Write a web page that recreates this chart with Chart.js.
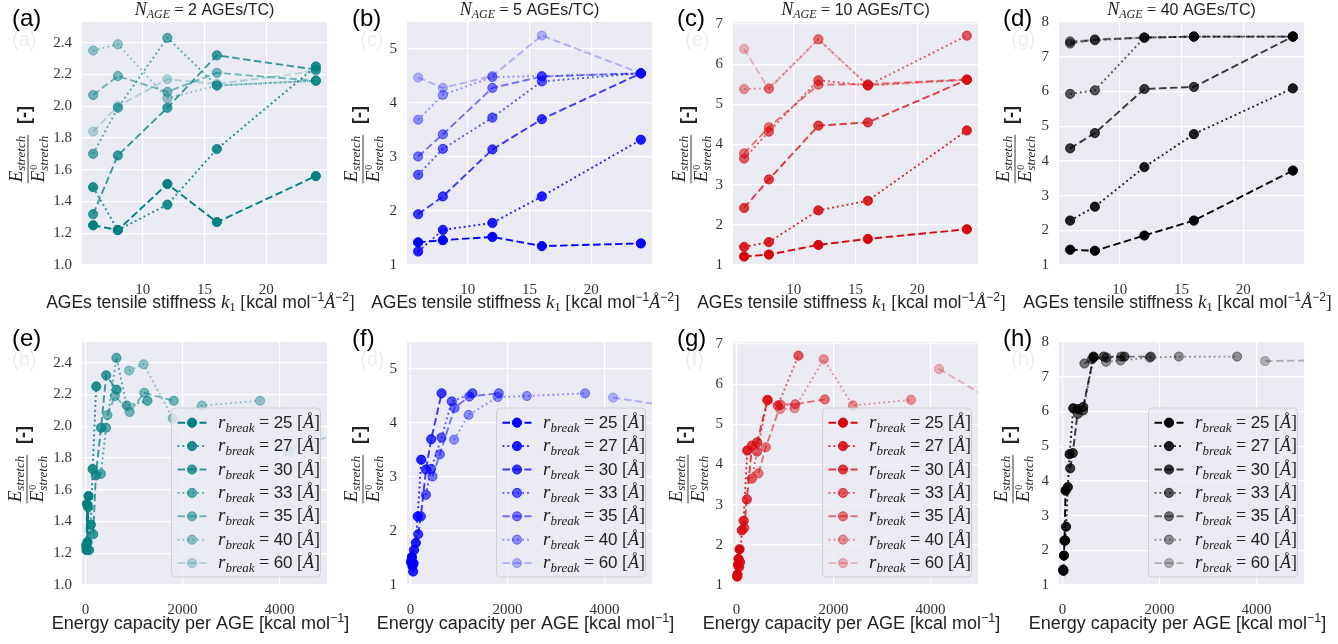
<!DOCTYPE html>
<html><head><meta charset="utf-8">
<script src="https://cdn.jsdelivr.net/npm/chart.js@4.4.1/dist/chart.umd.min.js"></script>
<style>
html,body{margin:0;padding:0;background:#fff;}
body{width:1338px;height:644px;overflow:hidden;position:relative;}
canvas{position:absolute;}
</style>
</head><body>
<script>
// ---------------- DATA ----------------
const stiffnessK1 = [6, 8, 12, 16, 24];
const rBreak = [25, 27, 30, 33, 35, 40, 60];
const nAge = [2, 5, 10, 40];

// energy capacity per AGE [kcal/mol], one row per r_break, columns follow stiffnessK1
const energyR25 = [16, 22, 32, 43, 65];
const energyR27 = [56, 75, 112, 149, 224];
const energyR30 = [161, 215, 322, 429, 643];
const energyR33 = [320, 426, 640, 853, 1279];
const energyR35 = [455, 607, 911, 1214, 1822];
const energyR40 = [900, 1200, 1800, 2400, 3600];
const energyR60 = [4177, 5570, 8354, 11139, 16708];
const energies = [energyR25, energyR27, energyR30, energyR33, energyR35, energyR40, energyR60];

// E_stretch / E0_stretch, rows = r_break (25,27,30,33,35,40,60), columns = stiffnessK1
const ratioN2 = [
  [1.25, 1.22, 1.51, 1.27, 1.56],
  [1.49, 1.22, 1.38, 1.73, 2.25],
  [1.32, 1.69, 1.99, 2.32, 2.23],
  [1.70, 1.99, 2.43, 2.13, 2.16],
  [2.07, 2.19, 2.09, 2.21, 2.16],
  [2.35, 2.39, 2.05, 2.13, 2.16],
  [1.84, 2.00, 2.17, 2.14, 2.22]
];
const ratioN5 = [
  [1.42, 1.46, 1.52, 1.35, 1.40],
  [1.25, 1.65, 1.78, 2.27, 3.32],
  [1.94, 2.27, 3.14, 3.70, 4.55],
  [2.67, 3.15, 3.73, 4.40, 4.55],
  [3.01, 3.42, 4.28, 4.49, 4.55],
  [3.69, 4.15, 4.48, 4.50, 4.55],
  [4.47, 4.28, 4.50, 5.25, 4.55]
];
const ratioN10 = [
  [1.21, 1.26, 1.50, 1.65, 1.89],
  [1.45, 1.57, 2.36, 2.60, 4.35],
  [2.42, 3.13, 4.47, 4.55, 5.61],
  [3.65, 4.32, 5.60, 5.47, 6.71],
  [3.78, 4.43, 5.49, 5.50, 5.62],
  [5.38, 5.40, 6.62, 5.47, 5.61],
  [6.38, 5.38, 6.62, 5.47, 5.61]
];
const ratioN40 = [
  [1.44, 1.41, 1.85, 2.28, 3.72],
  [2.28, 2.68, 3.82, 4.77, 6.09],
  [4.36, 4.80, 6.07, 6.13, 7.58],
  [5.93, 6.03, 7.55, 7.58, 7.58],
  [7.38, 7.50, 7.55, 7.58, 7.58],
  [7.43, 7.47, 7.55, 7.58, 7.58],
  [7.45, 7.48, 7.55, 7.58, 7.58]
];

const yTicksN2 = [1.0, 1.2, 1.4, 1.6, 1.8, 2.0, 2.2, 2.4];
const yTicksN5 = [1, 2, 3, 4, 5];
const yTicksN10 = [1, 2, 3, 4, 5, 6, 7];
const yTicksN40 = [1, 2, 3, 4, 5, 6, 7, 8];
const xTicksStiffness = [10, 15, 20];
const xTicksEnergy = [0, 2000, 4000];

// ---------------- STYLE ----------------
const SERIF = "'Liberation Serif','DejaVu Serif',serif";
const SANS = "'Liberation Sans','DejaVu Sans',sans-serif";
const TXT = '#222';
const alphas = [1, 0.88, 0.76, 0.64, 0.52, 0.4, 0.26];
const DASH = [7.5, 3.5], DOT = [1.9, 3];
const dashes = [DASH, DOT, DASH, DOT, DASH, DOT, DASH];
const colors = [[0,128,128],[0,0,255],[214,6,12],[0,0,0]];
const rgba = (c,a) => `rgba(${c[0]},${c[1]},${c[2]},${a})`;

const cols = [
  {ratios: ratioN2, n: nAge[0], yMax: 2.53, yTicks: yTicksN2, dec: 1, plotLeft: 82,  ylOff: [54, 55], letters: ['(a)','(e)'], ghosts: ['(a)','(b)'], letterX: 12},
  {ratios: ratioN5, n: nAge[1], yMax: 5.5, yTicks: yTicksN5, dec: 0, plotLeft: 407, ylOff: [44, 44], letters: ['(b)','(f)'], ghosts: ['(c)','(d)'], letterX: 352},
  {ratios: ratioN10, n: nAge[2], yMax: 7.05, yTicks: yTicksN10, dec: 0, plotLeft: 733, ylOff: [42, 45], letters: ['(c)','(g)'], ghosts: ['(e)','(f)'], letterX: 677},
  {ratios: ratioN40, n: nAge[3], yMax: 8.0, yTicks: yTicksN40, dec: 0, plotLeft: 1059, ylOff: [44, 46], letters: ['(d)','(h)'], ghosts: ['(g)','(h)'], letterX: 1003}
];

const PLOT_W = 245, LEFT_W = 82, RIGHT_PAD = 60;
const MARKER_R = 4.6;

function measureRuns(ctx, runs){
  let w = 0;
  runs.forEach(r => { ctx.font = r[1]; r.w = ctx.measureText(r[0]).width; w += r.w; });
  return w;
}
function drawRuns(ctx, runs, x, y){
  ctx.textAlign = 'left'; ctx.textBaseline = 'alphabetic';
  let cx = x;
  runs.forEach(r => { ctx.font = r[1]; ctx.fillText(r[0], cx, y + (r[2] || 0)); cx += r.w; });
}
function drawRunsCentered(ctx, runs, cx, y){
  const w = measureRuns(ctx, runs);
  drawRuns(ctx, runs, cx - w/2, y);
}

function drawYLabel(ctx, a, off){
  const xb = a.left - off;
  const yc = (a.top + a.bottom) / 2;
  ctx.save();
  ctx.fillStyle = TXT; ctx.strokeStyle = TXT;
  ctx.translate(xb, yc + 15.5);
  ctx.rotate(-Math.PI / 2);
  const num = [["E", `italic 19px ${SERIF}`, 0], ["stretch", `italic 13px ${SERIF}`, 3]];
  const wN = measureRuns(ctx, num);
  drawRuns(ctx, num, -wN / 2, -6);
  ctx.font = `italic 19px ${SERIF}`; const wE = ctx.measureText('E').width;
  ctx.font = `italic 13px ${SERIF}`; const wS = ctx.measureText('stretch').width;
  const wD = wE + wS, x0 = -wD / 2;
  ctx.textAlign = 'left'; ctx.textBaseline = 'alphabetic';
  ctx.font = `italic 19px ${SERIF}`; ctx.fillText('E', x0, 16);
  ctx.font = `10px ${SERIF}`; ctx.fillText('0', x0 + wE + 1, 9);
  ctx.font = `italic 13px ${SERIF}`; ctx.fillText('stretch', x0 + wE, 20);
  const hw = Math.max(wN, wD) / 2 + 1;
  ctx.lineWidth = 0.9;
  ctx.beginPath(); ctx.moveTo(-hw, 0); ctx.lineTo(hw, 0); ctx.stroke();
  ctx.restore();
  ctx.save();
  ctx.fillStyle = TXT;
  ctx.translate(xb - 3, yc - 28.5);
  ctx.rotate(-Math.PI / 2);
  ctx.font = `bold 18px ${SANS}`; ctx.textAlign = 'center'; ctx.textBaseline = 'middle';
  ctx.fillText('[-]', 0, 0);
  ctx.restore();
}

function drawLegend(ctx, a, color){
  const w = 149, h = 169;
  const x = a.right - 6.5 - w, y = a.bottom - 8 - h;
  ctx.save();
  ctx.beginPath();
  if (ctx.roundRect) ctx.roundRect(x, y, w, h, 4); else ctx.rect(x, y, w, h);
  ctx.fillStyle = 'rgba(234,234,242,0.8)'; ctx.fill();
  ctx.strokeStyle = 'rgba(204,204,204,0.9)'; ctx.lineWidth = 1; ctx.stroke();
  rBreak.forEach((r, i) => {
    const cy = y + 14.7 + i * 23.4;
    ctx.strokeStyle = rgba(color, alphas[i]);
    ctx.lineWidth = 1.9; ctx.setLineDash(dashes[i]);
    ctx.beginPath(); ctx.moveTo(x + 6, cy); ctx.lineTo(x + 35, cy); ctx.stroke();
    ctx.setLineDash([]);
    ctx.beginPath(); ctx.arc(x + 20.5, cy, MARKER_R, 0, Math.PI * 2);
    ctx.fillStyle = rgba(color, alphas[i]); ctx.fill();
    ctx.lineWidth = 1; ctx.stroke();
    ctx.fillStyle = TXT;
    const runs = [["r", `italic 19px ${SERIF}`], ["break", `italic 13px ${SERIF}`, 4], [" = ", `18px ${SERIF}`],
                  [String(r), `17px ${SANS}`], [" [", `18px ${SERIF}`], ["Å", `italic 18px ${SERIF}`], ["]", `18px ${SERIF}`]];
    measureRuns(ctx, runs);
    drawRuns(ctx, runs, x + 46.5, cy + 5);
  });
  ctx.restore();
}

function makePlugin(col, row, color, canvasLeft){
  return {
    id: 'panel' + row,
    beforeDraw(chart){
      const {ctx, chartArea: a} = chart;
      ctx.save();
      ctx.fillStyle = '#EAEAF2';
      ctx.fillRect(a.left, a.top, a.right - a.left, a.bottom - a.top);
      ctx.restore();
    },
    afterDraw(chart){
      const {ctx, chartArea: a} = chart;
      const cx = (a.left + a.right) / 2;
      ctx.save();
      ctx.fillStyle = '#000';
      ctx.font = `24px ${SANS}`; ctx.textAlign = 'left'; ctx.textBaseline = 'alphabetic';
      ctx.fillText(col.letters[row], col.letterX - canvasLeft, 26);
      ctx.fillStyle = '#ededf2';
      ctx.font = `20px ${SANS}`;
      ctx.fillText(col.ghosts[row], 12 + (col.letterX === 12 ? 0 : col.letterX - 4) - canvasLeft, 46);
      ctx.fillStyle = TXT;
      if (row === 0){
        drawRunsCentered(ctx, [["N", `italic 18px ${SERIF}`], ["AGE", `italic 12px ${SERIF}`, 3], [" = ", `17px ${SERIF}`], [`${col.n} AGEs/TC)`, `16px ${SANS}`]], cx, 14.5);
        drawRunsCentered(ctx, [["AGEs tensile stiffness ", `17.5px ${SANS}`], ["k", `italic 19px ${SERIF}`], ["1", `13px ${SERIF}`, 3],
          [" [", `18px ${SERIF}`], ["kcal mol", `17.5px ${SANS}`], ["−1", `12px ${SANS}`, -7.5], ["Å", `italic 18px ${SERIF}`],
          ["−2", `12px ${SANS}`, -7.5], ["]", `18px ${SERIF}`]], cx - 4, a.bottom + 43);
      } else {
        drawRunsCentered(ctx, [["Energy capacity per AGE [kcal mol", `18px ${SANS}`], ["−1", `12.5px ${SANS}`, -7.5], ["]", `18px ${SANS}`]], cx - 4, a.bottom + 44);
        drawLegend(ctx, a, color);
      }
      drawYLabel(ctx, a, col.ylOff[row]);
      ctx.restore();
    }
  };
}

cols.forEach((col, ci) => {
  [0, 1].forEach(row => {
    const color = colors[ci];
    const canvasLeft = col.plotLeft - LEFT_W;
    const cv = document.createElement('canvas');
    const W = LEFT_W + PLOT_W + RIGHT_PAD, H = row === 0 ? 320 : 324;
    cv.width = W; cv.height = H;
    cv.style.left = canvasLeft + 'px'; cv.style.top = (row === 0 ? 0 : 320) + 'px';
    cv.style.width = W + 'px'; cv.style.height = H + 'px';
    document.body.appendChild(cv);
    const xTicks = row === 0 ? xTicksStiffness : xTicksEnergy;
    const datasets = rBreak.map((r, i) => {
      const xs = row === 0 ? stiffnessK1 : energies[i];
      return {
        label: `r_break = ${r}`,
        data: xs.map((x, j) => ({x: x, y: col.ratios[i][j]})),
        borderColor: rgba(color, alphas[i]),
        backgroundColor: rgba(color, alphas[i]),
        pointBackgroundColor: rgba(color, alphas[i]),
        pointBorderColor: rgba(color, alphas[i]),
        pointBorderWidth: 1,
        pointRadius: MARKER_R,
        pointHoverRadius: MARKER_R,
        borderWidth: 1.9,
        borderDash: dashes[i],
        tension: 0,
        fill: false,
        order: 6 - i,
        clip: row === 0 ? 8 : {left: 8, top: 8, right: 0, bottom: 8}
      };
    });
    new Chart(cv, {
      type: 'line',
      data: {datasets},
      options: {
        responsive: false, animation: false, devicePixelRatio: 1,
        layout: {padding: {left: 0, right: RIGHT_PAD, top: 22, bottom: 0}},
        plugins: {legend: {display: false}, tooltip: {enabled: false}, title: {display: false}},
        events: [],
        scales: {
          x: {
            type: 'linear',
            min: row === 0 ? 5.1 : -70,
            max: row === 0 ? 24.9 : 4980,
            grid: {color: '#ffffff', lineWidth: 1.2, drawTicks: false},
            border: {display: false},
            ticks: {font: {family: SERIF, size: 15}, color: '#333', padding: 16, maxRotation: 0,
                    callback: v => String(v)},
            afterBuildTicks: s => { s.ticks = xTicks.map(v => ({value: v})); },
            afterFit: s => { s.height = H - 265; }
          },
          y: {
            type: 'linear',
            min: 1, max: col.yMax,
            grid: {color: '#ffffff', lineWidth: 1.2, drawTicks: false},
            border: {display: false},
            ticks: {font: {family: SERIF, size: 15}, color: '#333', padding: 10,
                    callback: v => v.toFixed(col.dec)},
            afterBuildTicks: s => { s.ticks = col.yTicks.map(v => ({value: v})); },
            afterFit: s => { s.width = LEFT_W; }
          }
        }
      },
      plugins: [makePlugin(col, row, color, canvasLeft)]
    });
  });
});
</script>
</body></html>
